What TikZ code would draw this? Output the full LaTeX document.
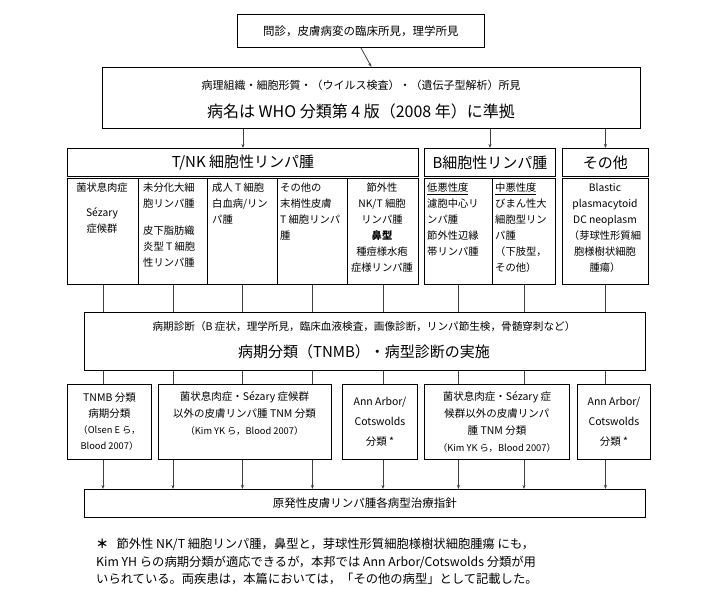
\documentclass[tikz,border=0pt]{standalone}
\usepackage{fontspec}
\setmainfont{Noto Sans CJK JP}
\usetikzlibrary{arrows.meta}
\begin{document}
\begin{tikzpicture}[x=1pt,y=-1pt,
  bx/.style={draw,line width=0.9pt,anchor=north west,inner sep=0pt,align=center},
  sb/.style={anchor=north west,inner sep=0pt,font=\fontsize{10.3}{16}\selectfont},
  ln/.style={line width=0.8pt,draw=black!75},
  ar/.style={ln,-{Stealth[length=4pt,width=3pt]}}]
\useasboundingbox (0,0) rectangle (718,604);
\newcommand\bx[6]{\node[bx,minimum width={#3-#1},minimum height={#4-#2},#5] (#6) at (#1,#2) {};}
% row 1
\bx{237}{14}{484}{47}{}{b1}
\node[font=\fontsize{11.5}{12}\selectfont] at (b1.center) {問診，皮膚病変の臨床所見，理学所見};
\bx{102}{67}{640}{128}{}{b2}
\node[font=\fontsize{11}{12}\selectfont] at (361,85) {病理組織・細胞形質・（ウイルス検査）・（遺伝子型解析）所見};
\node[font=\fontsize{16}{18}\selectfont] at (361,111) {病名は WHO 分類第 4 版（2008 年）に準拠};
\draw[ar] (b1.south) -- (b2.north);
% headers
\bx{67}{148}{418}{176}{}{h1}
\node[font=\fontsize{15}{16}\selectfont] at (h1.center) {T/NK 細胞性リンパ腫};
\bx{424}{148}{555}{176}{}{h2}
\node[font=\fontsize{15}{16}\selectfont] at (h2.center) {B細胞性リンパ腫};
\bx{562}{148}{648}{176}{}{h3}
\node[font=\fontsize{15}{16}\selectfont] at (h3.center) {その他};
\draw[ar] (b2.south -| h1.north) -- (h1.north);
\draw[ar] (b2.south -| h2.north) -- (h2.north);
\draw[ar] (b2.south -| h3.north) -- (h3.north);
% sub boxes
\bx{67}{178}{138}{284}{}{s1}
\bx{138}{178}{207}{284}{}{s2}
\bx{207}{178}{277}{284}{}{s3}
\bx{277}{178}{347}{284}{}{s4}
\bx{347}{178}{418}{284}{}{s5}
\bx{424}{178}{492}{284}{}{s6}
\bx{492}{178}{555}{284}{}{s7}
\bx{562}{178}{648}{284}{}{s8}
\node[sb,anchor=north,align=center] at (102,183) {菌状息肉症\\[9pt]Sézary\\症候群};
\node[sb,align=left] at (143,183) {未分化大細\\胞リンパ腫\\[11pt]皮下脂肪織\\炎型 T 細胞\\性リンパ腫};
\node[sb,align=left] at (212,183) {成人 T 細胞\\白血病/リン\\パ腫};
\node[sb,align=left] at (280,183) {その他の\\末梢性皮膚\\T 細胞リンパ\\腫};
\node[sb,anchor=north,align=center] at (382,183) {節外性\\NK/T 細胞\\リンパ腫\\\textbf{鼻型}\\種痘様水疱\\症様リンパ腫};
\node[sb,align=left] at (427,183) {\underline{低悪性度}\\濾胞中心リ\\ンパ腫\\節外性辺縁\\帯リンパ腫};
\node[sb,align=left] at (495,183) {\underline{中悪性度}\\びまん性大\\細胞型リン\\パ腫\\（下肢型，\\その他）};
\node[sb,anchor=north,align=center] at (605,183) {Blastic\\plasmacytoid\\DC neoplasm\\（芽球性形質細\\胞様樹状細胞\\腫瘍）};
% stage box
\bx{84}{312}{645}{370}{}{st}
\node[font=\fontsize{10.6}{12}\selectfont] at (364,327) {病期診断（B 症状，理学所見，臨床血液検査，画像診断，リンパ節生検，骨髄穿刺など）};
\node[font=\fontsize{15}{16}\selectfont] at (364,352) {病期分類（TNMB）・病型診断の実施};
\foreach \s in {s1,s2,s3,s4,s5,s6,s7,s8} \draw[ln] (\s.south) -- (st.north -| \s.south);
% bottom boxes
\bx{67}{384}{151}{459}{}{t1}
\bx{158}{384}{331}{459}{}{t2}
\bx{342}{384}{417}{459}{}{t3}
\bx{424}{384}{569}{459}{}{t4}
\bx{577}{384}{650}{459}{}{t5}
\node[font=\fontsize{10.5}{16}\selectfont,align=center] at (t1.center) {TNMB 分類\\病期分類\\{\fontsize{9.3}{14}\selectfont（Olsen E ら，}\\{\fontsize{9.3}{14}\selectfont Blood 2007）}};
\node[font=\fontsize{10.5}{17}\selectfont,align=center,anchor=north] at (244.5,388) {菌状息肉症・Sézary 症候群\\以外の皮膚リンパ腫 TNM 分類\\{\fontsize{9.3}{17}\selectfont（Kim YK ら，Blood 2007）}};
\node[font=\fontsize{10.5}{20}\selectfont,align=center] at (t3.center) {Ann Arbor/\\Cotswolds\\分類 *};
\node[font=\fontsize{10.5}{17}\selectfont,align=center] at (t4.center) {菌状息肉症・Sézary 症\\候群以外の皮膚リンパ\\腫 TNM 分類\\{\fontsize{9.3}{17}\selectfont（Kim YK ら，Blood 2007）}};
\node[font=\fontsize{10.5}{20}\selectfont,align=center] at (t5.center) {Ann Arbor/\\Cotswolds\\分類 *};
\foreach \s/\t in {s1/t1,s2/t2,s3/t2,s4/t2,s5/t3,s6/t4,s7/t4,s8/t5} \draw[ln] (st.south -| \s.south) -- (\t.north -| \s.south);
% final
\bx{84}{489}{645}{517}{}{fn}
\node[font=\fontsize{11.5}{12}\selectfont] at (fn.center) {原発性皮膚リンパ腫各病型治療指針};
\foreach \s/\t in {s1/t1,s2/t2,s3/t2,s4/t2,s5/t3,s6/t4,s7/t4,s8/t5} \draw[ar] (\t.south -| \s.south) -- (fn.north -| \s.south);
% footnote
\node[anchor=north west,align=left,inner sep=0pt,font=\fontsize{12.3}{17.5}\selectfont] (note) at (96,538) {\textbf{＊}\hspace{8pt}節外性 NK/T 細胞リンパ腫，鼻型と，芽球性形質細胞様樹状細胞腫瘍 にも，\\Kim YH らの病期分類が適応できるが，本邦では Ann Arbor/Cotswolds 分類が用\\いられている。両疾患は，本篇においては，「その他の病型」として記載した。};
\end{tikzpicture}
\end{document}
